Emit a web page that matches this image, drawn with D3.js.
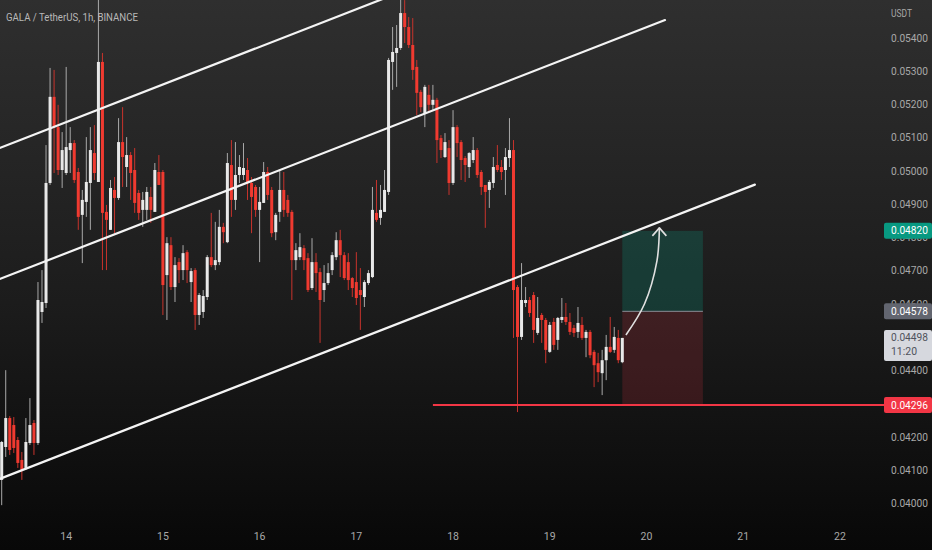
<!DOCTYPE html>
<html><head><meta charset="utf-8">
<script src="https://cdn.jsdelivr.net/npm/d3@7"></script>
<style>html,body{margin:0;padding:0;background:#000;overflow:hidden}</style>
</head><body><svg id="c" width="932" height="550"></svg>
<script>
const title = "GALA / TetherUS, 1h, BINANCE";
const currency = "USDT";
// hourly candles, index 0 = 13th 08:00
const open = [
.04071,.04170,.04257,.04236,.04191,.04131,.04107,.04182,.04242,.04182,
.04576,.04603,.04964,.05223,.05132,.05003,.04994,.05063,.05084,.04997,
.04868,.04907,.04964,.05054,.04967,.05328,.04877,.04823,.04943,.04919,
.05087,.05012,.05048,.05003,.04934,.04883,.04883,.04922,.04877,.04997,
.04997,.04687,.04777,.04651,.04726,.04702,.04756,.04666,.04702,.04567,
.04576,.04621,.04741,.04717,.04726,.04832,.04786,.05018,.04913,.04988,
.04988,.05003,.04964,.04952,.04883,.04904,.04997,.04943,.04816,.04877,
.04943,.04913,.04877,.04732,.04741,.04768,.04738,.04648,.04726,.04696,
.04642,.04663,.04702,.04741,.04792,.04747,.04726,.04678,.04666,.04642,
.04621,.04663,.04681,.04874,.04859,.04877,.04937,.05328,.05355,.05370,
.05475,.05433,.05379,.05313,.05238,.05174,.05229,.05199,.05214,.05099,
.05042,.05069,.04964,.05132,.05087,.05039,.05012,.05033,.05063,.04997,
.04958,.04943,.04964,.05018,.05012,.05003,.05039,.05063,.04651,.04501,
.04603,.04612,.04627,.04513,.04567,.04552,.04456,.04546,.04492,.04552,
.04561,.04546,.04528,.04516,.04537,.04498,.04516,.04456,.04422,.04392,
.04431,.04471,.04462,.04498,.04425];
const high = [
.04188,.04401,.04263,.04260,.04200,.04155,.04257,.04317,.04251,.04666,
.04702,.05078,.05310,.05304,.05199,.05117,.05313,.05132,.05093,.05009,
.04943,.05102,.05132,.05138,.05530,.05355,.04898,.04973,.04982,.05159,
.05192,.05102,.05057,.05069,.04943,.04937,.04952,.04952,.05024,.05048,
.05003,.04801,.04801,.04741,.04738,.04777,.04762,.04708,.04708,.04633,
.04642,.04747,.04874,.04847,.04883,.04844,.05054,.05093,.05087,.05048,
.05084,.05039,.04982,.04958,.04952,.05027,.05012,.04952,.04874,.05003,
.04997,.04928,.04883,.04783,.04813,.04777,.04753,.04798,.04753,.04708,
.04717,.04723,.04756,.04816,.04823,.04756,.04753,.04681,.04756,.04708,
.04672,.04702,.04952,.04973,.04958,.05003,.05340,.05433,.05439,.05530,
.05514,.05463,.05460,.05334,.05244,.05259,.05259,.05259,.05220,.05108,
.05114,.05093,.05183,.05138,.05093,.05045,.05057,.05102,.05069,.05003,
.04958,.04973,.05042,.05078,.05033,.05069,.05159,.05093,.04657,.04723,
.04651,.04621,.04636,.04621,.04573,.04558,.04546,.04558,.04561,.04618,
.04603,.04573,.04537,.04591,.04561,.04522,.04522,.04462,.04453,.04462,
.04507,.04561,.04531,.04522,.04498];
const low = [
.03995,.04140,.04146,.04152,.04107,.04071,.04101,.04176,.04146,.04176,
.04543,.04588,.04958,.04994,.04988,.04949,.04988,.04994,.04964,.04823,
.04723,.04862,.04823,.04973,.04967,.04702,.04702,.04823,.04813,.04913,
.04952,.04952,.04913,.04874,.04853,.04832,.04853,.04844,.04877,.04958,
.04567,.04552,.04642,.04606,.04663,.04672,.04663,.04606,.04522,.04537,
.04558,.04612,.04711,.04702,.04717,.04783,.04783,.04862,.04883,.04964,
.04973,.04913,.04813,.04862,.04726,.04904,.04913,.04801,.04792,.04847,
.04862,.04862,.04612,.04702,.04732,.04702,.04636,.04642,.04636,.04483,
.04606,.04657,.04687,.04732,.04681,.04672,.04642,.04621,.04597,.04522,
.04591,.04657,.04678,.04847,.04838,.04877,.04928,.05244,.05253,.05364,
.05385,.05370,.05274,.05168,.05177,.05132,.05177,.05183,.05024,.05039,
.05039,.04928,.04958,.05042,.04973,.04967,.04979,.05024,.04979,.04928,
.04829,.04889,.04949,.04997,.04973,.04928,.05012,.04498,.04275,.04492,
.04591,.04561,.04483,.04507,.04483,.04422,.04453,.04462,.04462,.04543,
.04537,.04507,.04501,.04498,.04492,.04440,.04437,.04350,.04365,.04326,
.04371,.04453,.04453,.04422,.04422];
const close = [
.04185,.04257,.04161,.04167,.04122,.04101,.04185,.04236,.04182,.04612,
.04606,.04964,.05223,.05132,.05003,.05063,.05072,.05084,.04973,.04862,
.04913,.04967,.05063,.04994,.05328,.04874,.04853,.04949,.04919,.05087,
.05042,.05048,.04994,.04904,.04874,.04913,.04937,.04883,.05003,.04958,
.04657,.04783,.04651,.04717,.04702,.04753,.04702,.04699,.04567,.04627,
.04624,.04741,.04717,.04732,.04832,.04816,.05024,.04913,.04988,.05012,
.05009,.04964,.04922,.04883,.04907,.04997,.04928,.04813,.04868,.04943,
.04883,.04874,.04732,.04762,.04771,.04732,.04642,.04726,.04693,.04612,
.04663,.04693,.04747,.04792,.04747,.04678,.04672,.04648,.04618,.04627,
.04666,.04693,.04883,.04853,.04883,.04943,.05334,.05358,.05370,.05475,
.05433,.05379,.05304,.05235,.05192,.05253,.05199,.05214,.05093,.05063,
.05087,.04964,.05132,.05084,.05033,.05018,.05054,.05063,.04988,.04952,
.04937,.04967,.05012,.05003,.04997,.05042,.05063,.04642,.04501,.04612,
.04612,.04573,.04522,.04558,.04552,.04462,.04537,.04477,.04558,.04561,
.04546,.04516,.04513,.04543,.04498,.04516,.04446,.04416,.04395,.04431,
.04471,.04456,.04501,.04431,.04498];
const dayLabels = ["14","15","16","17","18","19","20","21","22"];
const firstMidnightIndex = 16;
const priceTicks = [0.040,0.041,0.042,0.043,0.044,0.045,0.046,0.047,0.048,0.049,0.050,0.051,0.052,0.053,0.054];
// channel lines: [index, price] endpoints
const channelTop = [[-0.5, 0.05069], [95.1, 0.05520]];
const channelMid = [[-0.5, 0.04675], [164.6, 0.05454]];
const channelBot = [[-0.5, 0.04074], [186.9, 0.04959]];
const supportLevel = 0.04296, supportStart = 107;
const posStart = 154, posEnd = 174, entry = 0.04578, target = 0.04820, stop = 0.04296;
const arrowPts = [[154.9, 0.04507], [159.5, 0.04600], [162.6, 0.04730], [163.2, 0.04829]];
const lastPrice = 0.04498, countdown = "11:20";

const W = 932, H = 550, plotR = 884;
const svg = d3.select("#c");
const defs = svg.append("defs");
const grad = defs.append("linearGradient").attr("id","bg").attr("x1",0).attr("y1",0).attr("x2",0).attr("y2",1);
grad.append("stop").attr("offset","0%").attr("stop-color","#2f2f2f");
grad.append("stop").attr("offset","55%").attr("stop-color","#1c1c1c");
grad.append("stop").attr("offset","100%").attr("stop-color","#080808");
defs.append("clipPath").attr("id","clip").append("rect").attr("x",0).attr("y",0).attr("width",plotR).attr("height",520);
svg.append("rect").attr("width",W).attr("height",H).attr("fill","url(#bg)");

const x = d3.scaleLinear().domain([0,154]).range([1.7, 622.3]);
const y = d3.scaleLinear().domain([0.040,0.054]).range([503.5, 38]);

const g = svg.append("g").attr("clip-path","url(#clip)");

// position tool
g.append("rect").attr("x",x(posStart)).attr("width",x(posEnd)-x(posStart))
 .attr("y",y(target)).attr("height",y(entry)-y(target)).attr("fill","rgba(8,153,129,0.24)");
g.append("rect").attr("x",x(posStart)).attr("width",x(posEnd)-x(posStart))
 .attr("y",y(entry)).attr("height",y(stop)-y(entry)).attr("fill","rgba(242,54,69,0.17)");
g.append("line").attr("x1",x(posStart)).attr("x2",x(posEnd)).attr("y1",y(entry)).attr("y2",y(entry))
 .attr("stroke","#8a8d96").attr("stroke-width",1);

// candles
const idx = d3.range(open.length);
const up = i => close[i] >= open[i];
g.selectAll("line.wick").data(idx).join("line").attr("class","wick")
 .attr("x1",i=>x(i)).attr("x2",i=>x(i)).attr("y1",i=>y(high[i])).attr("y2",i=>y(low[i]))
 .attr("stroke",i=>up(i)?"#a9a9a9":"#c8332c").attr("stroke-width",1);
g.selectAll("rect.body").data(idx).join("rect").attr("class","body")
 .attr("x",i=>x(i)-1.5).attr("width",3)
 .attr("y",i=>y(Math.max(open[i],close[i])))
 .attr("height",i=>Math.max(1,Math.abs(y(open[i])-y(close[i]))))
 .attr("fill",i=>up(i)?"#e8e8e8":"#f03a30");

// channel lines
[channelTop, channelMid, channelBot].forEach(l=>{
  g.append("line").attr("x1",x(l[0][0])).attr("y1",y(l[0][1])).attr("x2",x(l[1][0])).attr("y2",y(l[1][1]))
   .attr("stroke","#f4f4f4").attr("stroke-width",2.2).attr("stroke-linecap","round");
});

// support line
g.append("line").attr("x1",x(supportStart)).attr("x2",plotR).attr("y1",y(supportLevel)).attr("y2",y(supportLevel))
 .attr("stroke","#f23645").attr("stroke-width",2);

// arrow
const line = d3.line().x(d=>x(d[0])).y(d=>y(d[1])).curve(d3.curveCatmullRom);
g.append("path").attr("d",line(arrowPts)).attr("fill","none").attr("stroke","#e0e0e0").attr("stroke-width",1.6);
const tip = arrowPts[arrowPts.length-1];
const tx = x(tip[0]), ty = y(tip[1]);
g.append("path").attr("d",`M${tx-7},${ty+8}L${tx},${ty}L${tx+7},${ty+8}`).attr("fill","none")
 .attr("stroke","#e0e0e0").attr("stroke-width",1.6).attr("stroke-linejoin","round");

// title
svg.append("text").attr("x",6).attr("y",21).text(title)
 .attr("font-family","Roboto, 'Liberation Sans', sans-serif").attr("font-size",11.5)
 .attr("fill","#b8b8b8").attr("textLength",132).attr("lengthAdjust","spacingAndGlyphs");

// price axis
const ax = svg.append("g").attr("font-family","Roboto, 'Liberation Sans', sans-serif").attr("font-size",10);
ax.append("text").attr("x",891).attr("y",17).text(currency).attr("fill","#a8a8a8").attr("textLength",21).attr("lengthAdjust","spacingAndGlyphs");
ax.selectAll("text.tick").data(priceTicks).join("text").attr("class","tick")
 .attr("x",891).attr("y",d=>y(d)+3.5).text(d=>d3.format(".5f")(d)).attr("fill","#a8a8a8")
 .attr("textLength",37).attr("lengthAdjust","spacingAndGlyphs");

function tag(price, fill, color, lines){
  const cy = y(price);
  const h = lines.length===1 ? 16 : 31;
  ax.append("rect").attr("x",884).attr("y",cy-8).attr("width",48).attr("height",h).attr("rx",2).attr("fill",fill);
  lines.forEach((t,k)=>{
    ax.append("text").attr("x",891).attr("y",cy+3.5+k*13.5).text(t).attr("fill",color)
      .attr("textLength",t.length>5?37:26).attr("lengthAdjust","spacingAndGlyphs");
  });
}
tag(target, "#089981", "#ffffff", [d3.format(".5f")(target)]);
tag(entry, "#62656f", "#ffffff", [d3.format(".5f")(entry)]);
tag(lastPrice, "#d6d8de", "#50535c", [d3.format(".5f")(lastPrice), countdown]);
tag(supportLevel, "#f23645", "#ffffff", [d3.format(".5f")(supportLevel)]);

// time axis
svg.append("g").selectAll("text").data(dayLabels).join("text")
 .attr("x",(d,k)=>x(firstMidnightIndex+24*k)).attr("y",540).attr("text-anchor","middle")
 .text(d=>d).attr("fill","#a8a8a8").attr("font-family","Roboto, 'Liberation Sans', sans-serif").attr("font-size",10.5);
</script></body></html>
